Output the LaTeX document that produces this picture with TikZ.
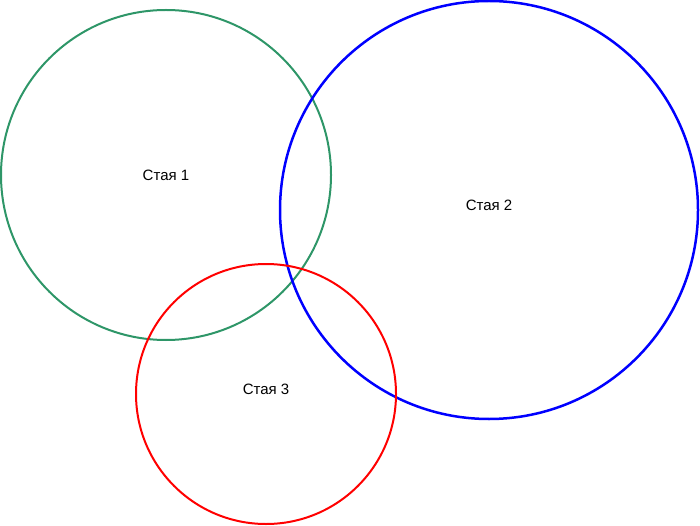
\documentclass[tikz,border=0pt]{standalone}
\usepackage{fontspec}
\setmainfont{Liberation Sans}
\definecolor{flockgreen}{RGB}{46,150,104}
\tikzset{
  flock/.style={circle, draw, line width=2pt, inner sep=0pt, minimum size=#1},
  flocklabel/.style={font=\fontsize{15}{18}\selectfont, inner sep=0pt}
}
\begin{document}
\begin{tikzpicture}[x=1pt, y=-1pt]
    \useasboundingbox (0, 0) rectangle (700, 526);
    \node (f1) [flock=330pt, flockgreen] at (166, 175) {};
    \node (f2) [flock=418pt, blue, line width=2.5pt] at (489, 210) {};
    \node (f3) [flock=260pt, red] at (266, 394) {};
    \node (l1) [flocklabel] at (166, 175) {Стая 1};
    \node (l2) [flocklabel] at (489, 205) {Стая 2};
    \node (l3) [flocklabel] at (266, 389) {Стая 3};
  \end{tikzpicture}
\end{document}
